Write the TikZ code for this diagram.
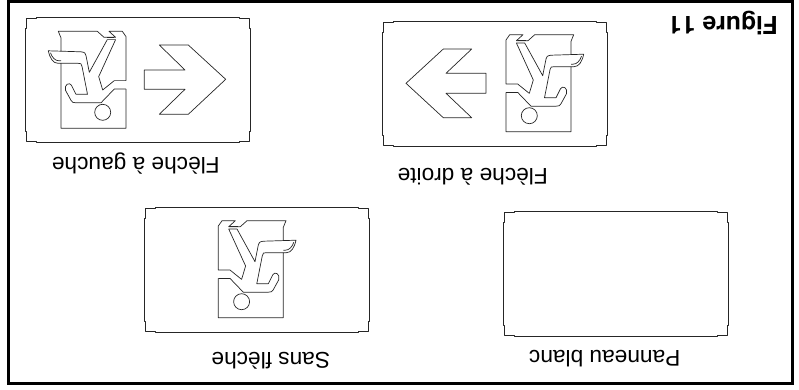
\documentclass[tikz,border=0pt]{standalone}
\usepackage{fontspec}
\setmainfont{Liberation Sans}
\newfontfamily\titlefont{TeX Gyre Heros}
\usetikzlibrary{positioning}

\begin{document}
\begin{tikzpicture}[
      x=1pt, y=-1pt,
      caption/.style={anchor=base, rotate=180, inner sep=0pt, font=\fontsize{22.7}{27}\selectfont},
      title/.style={anchor=base, rotate=180, inner sep=0pt, font=\titlefont\fontsize{24.7}{29}\selectfont\bfseries},
      thin line/.style={draw=black!85, line width=0.7pt, line join=round},
      panel/.pic={
        \draw[thin line] (1,1) -- (11,1) -- (11,0) -- (214,0) -- (214,1) -- (224,1) -- (224,11) -- (225,11)
          -- (225,114) -- (224,114) -- (224,124) -- (214,124) -- (214,125) -- (11,125) -- (11,124)
          -- (1,124) -- (1,114) -- (0,114) -- (0,11) -- (1,11) -- cycle;
      },
      runner/.pic={
        % door with the running man cut out
        \draw[thin line] (0,-39.3) -- (0,0) -- (65,0) -- (65,-65) -- (68,-65)
          .. controls (73,-65) and (76,-70) .. (77.7,-77.5) -- (45,-76.5)
          .. controls (41,-76) and (40.5,-75) .. (40,-72.7) -- (36.7,-56)
          -- (18.7,-88.7) -- (10.4,-88.7) -- (27.3,-51.7) -- (23.3,-38.3) -- (11.7,-47.7) -- (0,-47.7)
          -- (0,-91.7) -- (3.7,-97) -- (17,-97) -- (10.4,-91) -- (22,-91) -- (28.7,-97) -- (67.7,-97)
          -- (65,-90.4) -- (65,-77.5);
        \draw[thin line] (0,-39.3) -- (11.7,-39.3) -- (25,-25.5) -- (50,-25.5)
          .. controls (53,-25.5) and (54,-26) .. (55,-28) -- (60.5,-38)
          .. controls (62,-44) and (56.5,-46.5) .. (54.5,-43) -- (50,-34) -- (38.5,-34) -- (44,-62)
          .. controls (44,-65) and (46,-65) .. (48,-65) -- (65,-65);
        % second edge of the hand and of the foot
        \draw[thin line] (65,-67.5) -- (67,-67.5) .. controls (71,-67.5) and (74,-71) .. (75.5,-75.5);
        \draw[thin line] (12,-91) -- (19.5,-91);
        \draw[thin line] (23.3,-16) circle (8);
      }
    ]
    \useasboundingbox (0,0) rectangle (799,389);
    \draw[line width=3pt] (8,1.5) rectangle (792,383.5);

    \pic at (25,17.5) {panel};
    \pic at (382.5,21.5) {panel};
    \pic at (144,207) {panel};
    \pic at (503,211.5) {panel};

    \pic[xscale=-1] at (126,128.3) {runner};
    \pic at (506,131.7) {runner};
    \pic at (218.3,317.7) {runner};

    % arrows
    \draw[thin line] (144.3,70) -- (185,70) -- (159.3,45) -- (188.3,45) -- (225.7,79.3) -- (188.3,114.3)
      -- (159.3,114.3) -- (185,89.3) -- (144.3,89.3) -- cycle;
    \draw[thin line] (486,73.3) -- (446,73.3) -- (471.7,49) -- (443.3,49) -- (406,83.3) -- (443.3,117.7)
      -- (471.7,117.7) -- (446,93.3) -- (486,93.3) -- cycle;

    \node[title] (fig) at (723,16) {Figure 11};
    \node[caption] (left) at (135.8,157) {Flèche à gauche};
    \node[caption] (right) at (472.7,168) {Flèche à droite};
    \node[caption] (none) at (270.8,352.5) {Sans flèche};
    \node[caption] (blank) at (604.7,350) {Panneau blanc};
  \end{tikzpicture}
\end{document}
